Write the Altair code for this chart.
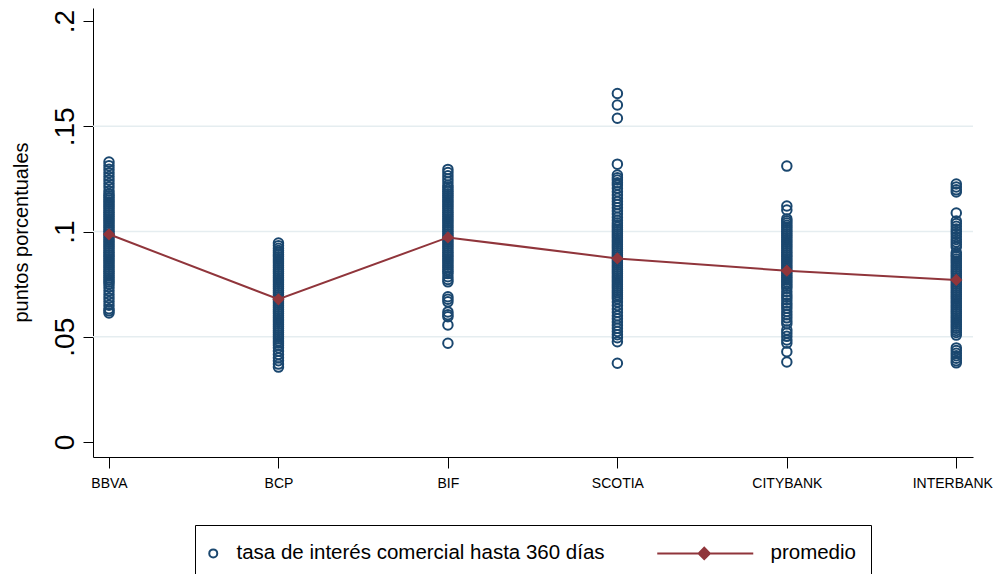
import json
import altair as alt
import pandas as pd

# ---------------- data ----------------
bancos = ["BBVA", "BCP", "BIF", "SCOTIA", "CITYBANK", "INTERBANK"]

bbva = [0.1330, 0.1313, 0.1296, 0.1279, 0.1262, 0.1245, 0.1228, 0.1211, 0.1194, 0.1180,
        0.117, 0.116, 0.115, 0.114, 0.113, 0.112, 0.111, 0.110, 0.109, 0.108,
        0.107, 0.106, 0.105, 0.104, 0.103, 0.102, 0.101, 0.100, 0.099, 0.098,
        0.097, 0.096, 0.095, 0.094, 0.093, 0.092, 0.091, 0.090, 0.089, 0.088,
        0.087, 0.086, 0.085, 0.084, 0.083, 0.082, 0.081, 0.080, 0.079, 0.078,
        0.077, 0.076, 0.075, 0.0735, 0.0718, 0.0701, 0.0684, 0.0667, 0.0650, 0.0633,
        0.0623, 0.0613]
bcp = [0.0945, 0.0933, 0.092, 0.091, 0.090, 0.089, 0.088, 0.087, 0.086, 0.085,
       0.084, 0.083, 0.082, 0.081, 0.080, 0.079, 0.078, 0.077, 0.076, 0.075,
       0.074, 0.073, 0.072, 0.071, 0.070, 0.069, 0.068, 0.067, 0.066, 0.065,
       0.064, 0.063, 0.062, 0.061, 0.060, 0.059, 0.058, 0.057, 0.056, 0.055,
       0.054, 0.053, 0.052, 0.051, 0.050, 0.049, 0.048, 0.047, 0.046, 0.0448,
       0.0432, 0.0416, 0.0400, 0.0386, 0.0370, 0.0356]
bif = [0.1295, 0.1280, 0.1265, 0.1250, 0.1235, 0.122, 0.121, 0.120, 0.119, 0.118,
       0.117, 0.116, 0.115, 0.114, 0.113, 0.112, 0.111, 0.110, 0.109, 0.108,
       0.107, 0.106, 0.105, 0.104, 0.103, 0.102, 0.101, 0.100, 0.099, 0.098,
       0.097, 0.096, 0.095, 0.094, 0.093, 0.092, 0.091, 0.090, 0.089, 0.088,
       0.087, 0.086, 0.085, 0.084, 0.083, 0.082, 0.081, 0.080, 0.0785, 0.0772,
       0.0761, 0.0690, 0.0678, 0.0666, 0.0618, 0.0605, 0.0595, 0.0556, 0.0469]
scotia = [0.1656, 0.1601, 0.1538, 0.1320, 0.1268, 0.1255, 0.1245, 0.1232, 0.1221, 0.1205,
          0.1189, 0.1173, 0.1158, 0.1143, 0.1128, 0.1113, 0.1098, 0.1083, 0.1068, 0.1053,
          0.1040, 0.103, 0.102, 0.101, 0.100, 0.099, 0.098, 0.097, 0.096, 0.095,
          0.094, 0.093, 0.092, 0.091, 0.090, 0.089, 0.088, 0.087, 0.086, 0.085,
          0.084, 0.083, 0.082, 0.081, 0.080, 0.079, 0.078, 0.077, 0.076, 0.075,
          0.074, 0.073, 0.072, 0.071, 0.070, 0.069, 0.068, 0.0665, 0.0648, 0.0632,
          0.0616, 0.0600, 0.0585, 0.0570, 0.0555, 0.0540, 0.0525, 0.0510, 0.0495, 0.0476,
          0.0374]
citybank = [0.1311, 0.1121, 0.1102, 0.106, 0.105, 0.104, 0.103, 0.102, 0.101, 0.100,
            0.099, 0.098, 0.097, 0.096, 0.095, 0.094, 0.093, 0.092, 0.091, 0.090,
            0.089, 0.088, 0.087, 0.086, 0.085, 0.084, 0.083, 0.082, 0.081, 0.080,
            0.079, 0.078, 0.077, 0.076, 0.075, 0.074, 0.073, 0.0715, 0.0700, 0.0688,
            0.0675, 0.0660, 0.0648, 0.0635, 0.0620, 0.0605, 0.0590, 0.0575, 0.0562, 0.0532,
            0.0518, 0.0502, 0.0485, 0.0470, 0.0429, 0.0380]
interbank = [0.1226, 0.1212, 0.1198, 0.1188, 0.1088, 0.1050, 0.1038, 0.1025, 0.1012, 0.1000,
             0.0988, 0.0975, 0.0962, 0.0950, 0.0938, 0.0926, 0.090, 0.089, 0.088, 0.087,
             0.086, 0.085, 0.084, 0.083, 0.082, 0.081, 0.080, 0.079, 0.078, 0.077,
             0.076, 0.075, 0.074, 0.073, 0.072, 0.071, 0.070, 0.069, 0.068, 0.067,
             0.066, 0.065, 0.064, 0.063, 0.062, 0.061, 0.060, 0.059, 0.058, 0.057,
             0.056, 0.055, 0.054, 0.053, 0.052, 0.0508, 0.0447, 0.0435, 0.0422, 0.0410,
             0.0398, 0.0386, 0.0376]

promedio = [0.0987, 0.0678, 0.0972, 0.0872, 0.0814, 0.0770]

ytick_vals = [0, 0.05, 0.1, 0.15, 0.2]
ytick_labels = ["0", ".05", ".1", ".15", ".2"]
grid_vals = [0.05, 0.1, 0.15]

serie_pts = "tasa de interés comercial hasta 360 días"
serie_prom = "promedio"
series = [serie_pts, serie_prom]

# ---------------- tables ----------------
columnas = [bbva, bcp, bif, scotia, citybank, interbank]
rows = []
for i, vals in enumerate(columnas):
    for v in vals:
        rows.append({"x": i + 1, "v": v, "serie": serie_pts})
df_pts = pd.DataFrame(rows)
df_mean = pd.DataFrame({"x": list(range(1, len(bancos) + 1)), "v": promedio, "serie": serie_prom})
df_grid = pd.DataFrame({"v": grid_vals})

# ---------------- styling ----------------
NAVY = "#1a476f"
MAROON = "#90353b"
FONT = "Liberation Sans"

xscale = alt.Scale(domain=[0.9056, 6.0986], nice=False, zero=False)
yscale = alt.Scale(domain=[-0.00713, 0.2062], nice=False, zero=False)

xaxis = alt.Axis(
    values=list(range(1, len(bancos) + 1)),
    labelExpr=json.dumps(bancos) + "[datum.value - 1]",
    title=None, grid=False, tickSize=11, labelPadding=8, labelFontSize=14,
    labelFlush=False, labelOverlap=False, labelColor="black",
    labelOffset={"condition": {"test": "datum.value == 6", "value": -4}, "value": 0},
)
yaxis = alt.Axis(
    values=ytick_vals,
    labelExpr=json.dumps(ytick_labels) + "[round(datum.value * 20)]",
    labelAngle=270, labelAlign="center", labelBaseline="alphabetic",
    labelFontSize=28, labelPadding=10, tickSize=10, grid=False,
    labelOverlap=False, labelFlush=False,
    title="puntos porcentuales", titleFontSize=20, titleFontWeight="normal",
    titleAngle=270, titleAlign="center", titleBaseline="alphabetic",
    titleX=-66, titleY=224,
)

X = alt.X("x:Q", scale=xscale, axis=xaxis)
Y = alt.Y("v:Q", scale=yscale, axis=yaxis)

# legend symbol for "promedio": a line with a diamond, drawn left of the entry centre
prom_path = "M-22.5,0H1.5M-10.75,-1.4L-9.35,0L-10.75,1.4L-12.15,0Z"

leg = alt.Legend(
    title=" ", titleFontSize=1, titlePadding=2,
    orient="none", legendX=102, legendY=517, direction="horizontal",
    strokeColor="black", fillColor="white", padding=15,
    labelFont=FONT, labelFontSize=20.5, labelLimit=600, labelOffset=13, labelColor="black",
    symbolSize=64, symbolStrokeWidth=2, symbolOffset=-7, columnPadding=48,
)

stroke_enc = alt.Stroke("serie:N", scale=alt.Scale(domain=series, range=[NAVY, MAROON]), legend=leg)
fill_enc = alt.Fill("serie:N", scale=alt.Scale(domain=series, range=["transparent", MAROON]), legend=leg)
shape_enc = alt.Shape("serie:N", scale=alt.Scale(domain=series, range=["circle", prom_path]), legend=leg)

grid = alt.Chart(df_grid).mark_rule(color="#e5edf0", strokeWidth=1.6).encode(y=Y)

pts = alt.Chart(df_pts).mark_point(size=90, strokeWidth=2, opacity=1).encode(
    x=X, y=Y, stroke=stroke_enc, fill=fill_enc, shape=shape_enc
)

line = alt.Chart(df_mean).mark_line(color=MAROON, strokeWidth=2).encode(x=X, y=Y)

diam = alt.Chart(df_mean).mark_point(
    shape="diamond", size=150, filled=True, color=MAROON, opacity=1
).encode(x=X, y=Y)

chart = (
    alt.layer(grid, pts, line, diam)
    .properties(
        width=880, height=449,
        background="white",
        autosize=alt.AutoSizeParams(type="none"),
        padding={"left": 85, "top": 0, "right": 20, "bottom": 120},
    )
    .configure_view(strokeWidth=0)
    .configure_axis(
        domainColor="black", tickColor="black", labelColor="black", titleColor="black",
        labelFont=FONT, titleFont=FONT, domainWidth=1, tickWidth=1,
    )
)

chart.save("out.html", embed_options={"renderer": "svg", "actions": False})
